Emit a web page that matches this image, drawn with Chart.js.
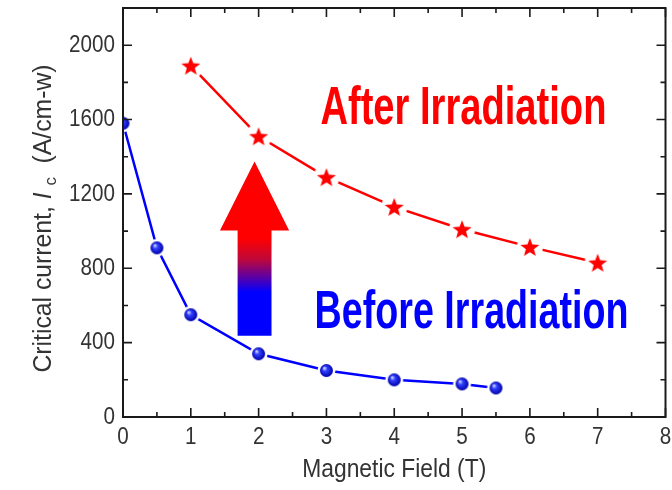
<html>
<head>
    <script src="https://cdn.jsdelivr.net/npm/chart.js"></script>
    <title>Critical current vs magnetic field</title>
    <style>
        body { margin: 0; background: #fff; }
    </style>
</head>
<body>
    <canvas id="c1" width="672" height="490"></canvas>
    <script>
        "use strict";

        // data
        let fieldBefore = [0, 0.5, 1, 2, 3, 4, 5, 5.5];
        let currentBefore = [1580, 910, 550, 340, 250, 200, 178, 156];
        let fieldAfter = [1, 2, 3, 4, 5, 6, 7];
        let currentAfter = [1890, 1510, 1290, 1130, 1010, 915, 830];
        let xLabels = [0, 1, 2, 3, 4, 5, 6, 7, 8];
        let yLabels = [0, 400, 800, 1200, 1600, 2000];

        const sans = "'Liberation Sans', Arial, sans-serif";
        const grey = "#333333";
        const squeeze = 0.86;   // the original uses a condensed face

        // marker images
        function makeStar(R) {
            let c = document.createElement("canvas");
            let s = Math.ceil(R * 2 + 8);
            c.width = s; c.height = s;
            let g = c.getContext("2d");
            let m = s / 2;
            g.fillStyle = "#fff";
            g.beginPath(); g.arc(m, m, R + 3, 0, Math.PI * 2); g.fill();
            g.fillStyle = "#ff0000";
            g.beginPath();
            for (let i = 0; i < 10; i++) {
                let r = i % 2 == 0 ? R : R * 0.42;
                let a = -Math.PI / 2 + i * Math.PI / 5;
                g.lineTo(m + r * Math.cos(a), m + 1 + r * Math.sin(a));
            }
            g.closePath();
            g.fill();
            return c;
        }

        function makeBall(r) {
            let c = document.createElement("canvas");
            let s = Math.ceil(r * 2 + 8);
            c.width = s; c.height = s;
            let g = c.getContext("2d");
            let m = s / 2;
            g.fillStyle = "#fff";
            g.beginPath(); g.arc(m, m, r + 2.5, 0, Math.PI * 2); g.fill();
            let grd = g.createRadialGradient(m - r * 0.35, m - r * 0.4, r * 0.05, m, m, r);
            grd.addColorStop(0, "#d8e0ff");
            grd.addColorStop(0.35, "#3040ff");
            grd.addColorStop(1, "#0000a8");
            g.fillStyle = grd;
            g.beginPath(); g.arc(m, m, r, 0, Math.PI * 2); g.fill();
            return c;
        }

        // text squeezed horizontally; align: "center" or "right"
        function drawText(ctx, str, font, px, py, sx, color, align) {
            ctx.save();
            ctx.font = font;
            ctx.fillStyle = color;
            ctx.textAlign = align || "center";
            ctx.textBaseline = "middle";
            ctx.translate(px, py);
            ctx.scale(sx, 1);
            ctx.fillText(str, 0, 0);
            ctx.restore();
        }

        function fitText(ctx, str, font, cx, cy, w, color) {
            ctx.save();
            ctx.font = font;
            let mw = ctx.measureText(str).width;
            ctx.restore();
            drawText(ctx, str, font, cx, cy, w / mw, color, "center");
        }

        // box with inward ticks on all four sides, plus tick labels
        const frame = {
            id: "frame",
            afterDatasetsDraw(chart) {
                let ctx = chart.ctx;
                let a = chart.chartArea;
                let x = chart.scales.x;
                let y = chart.scales.y;
                ctx.save();
                ctx.strokeStyle = "#1a1a1a";
                ctx.lineWidth = 2;
                ctx.strokeRect(a.left, a.top, a.right - a.left, a.bottom - a.top);
                ctx.lineWidth = 1.6;
                ctx.beginPath();
                x.ticks.forEach(t => {
                    let px = x.getPixelForValue(t.value);
                    let len = Number.isInteger(t.value) ? 9 : 5;
                    ctx.moveTo(px, a.bottom); ctx.lineTo(px, a.bottom - len);
                    ctx.moveTo(px, a.top); ctx.lineTo(px, a.top + len);
                });
                y.ticks.forEach(t => {
                    let py = y.getPixelForValue(t.value);
                    let len = t.value % 400 == 0 ? 9 : 5;
                    ctx.moveTo(a.left, py); ctx.lineTo(a.left + len, py);
                    ctx.moveTo(a.right, py); ctx.lineTo(a.right - len, py);
                });
                ctx.stroke();
                ctx.restore();

                let tf = "24px " + sans;
                x.ticks.forEach(t => {
                    if (xLabels.includes(t.value))
                        drawText(ctx, String(t.value), tf, x.getPixelForValue(t.value), a.bottom + 20, squeeze, grey, "center");
                });
                y.ticks.forEach(t => {
                    if (yLabels.includes(t.value))
                        drawText(ctx, String(t.value), tf, a.left - 8, y.getPixelForValue(t.value), squeeze, grey, "right");
                });
                fitText(ctx, "Magnetic Field (T)", "25px " + sans, (a.left + a.right) / 2, a.bottom + 53, 184, grey);
            }
        };

        // arrow + labels + y title
        const notes = {
            id: "notes",
            afterDraw(chart) {
                let ctx = chart.ctx;
                let x = chart.scales.x;
                let y = chart.scales.y;

                let cx = x.getPixelForValue(1.94);
                let tip = y.getPixelForValue(1375);
                let base = y.getPixelForValue(1003);
                let bottom = y.getPixelForValue(437);
                let hw = x.getPixelForValue(0.51) - x.getPixelForValue(0);
                let sw = x.getPixelForValue(0.25) - x.getPixelForValue(0);
                let grd = ctx.createLinearGradient(0, tip, 0, bottom);
                grd.addColorStop(0, "#ff0000");
                grd.addColorStop(0.44, "#ff0000");
                grd.addColorStop(0.56, "#c00838");
                grd.addColorStop(0.66, "#6000a0");
                grd.addColorStop(0.75, "#0000ff");
                grd.addColorStop(1, "#0000ff");
                ctx.save();
                ctx.fillStyle = grd;
                ctx.beginPath();
                ctx.moveTo(cx, tip);
                ctx.lineTo(cx + hw, base);
                ctx.lineTo(cx + sw, base);
                ctx.lineTo(cx + sw, bottom);
                ctx.lineTo(cx - sw, bottom);
                ctx.lineTo(cx - sw, base);
                ctx.lineTo(cx - hw, base);
                ctx.closePath();
                ctx.fill();
                ctx.restore();

                fitText(ctx, "After Irradiation", "bold 54px " + sans,
                    x.getPixelForValue(5.02), y.getPixelForValue(1655), 286, "#ff0000");
                fitText(ctx, "Before Irradiation", "bold 54px " + sans,
                    x.getPixelForValue(5.14), y.getPixelForValue(561), 314, "#0000ff");

                // y title with italic I and subscript c
                ctx.save();
                ctx.translate(44, (chart.chartArea.top + chart.chartArea.bottom) / 2 + 6);
                ctx.rotate(-Math.PI / 2);
                ctx.fillStyle = grey;
                ctx.textBaseline = "middle";
                let f1 = "25px " + sans;
                let f2 = "italic 25px " + sans;
                let f3 = "17px " + sans;
                let parts = [
                    ["Critical current, ", f1, 0],
                    ["I", f2, 0],
                    [" ", f1, 0],
                    ["c", f3, 7],
                    ["  (A/cm-w)", f1, 0]
                ];
                let total = 0;
                parts.forEach(p => { ctx.font = p[1]; p.push(ctx.measureText(p[0]).width); total += p[3]; });
                ctx.scale(308 / total, 1);
                let px = -total / 2;
                parts.forEach(p => {
                    ctx.font = p[1];
                    ctx.fillText(p[0], px, p[2]);
                    px += p[3];
                });
                ctx.restore();
            }
        };

        let params = {
            type: "scatter",
            data: {
                datasets: [
                    {
                        label: "Before Irradiation",
                        data: fieldBefore.map((v, i) => ({ x: v, y: currentBefore[i] })),
                        showLine: true,
                        borderColor: "#0000ff",
                        borderWidth: 2.5,
                        pointStyle: makeBall(6.5)
                    },
                    {
                        label: "After Irradiation",
                        data: fieldAfter.map((v, i) => ({ x: v, y: currentAfter[i] })),
                        showLine: true,
                        borderColor: "#ff0000",
                        borderWidth: 2.5,
                        pointStyle: makeStar(10)
                    }
                ]
            },
            options: {
                responsive: false,
                animation: false,
                layout: { padding: { top: 8, right: 4, left: 0, bottom: 0 } },
                plugins: { legend: { display: false }, tooltip: { enabled: false } },
                scales: {
                    x: {
                        type: "linear",
                        min: 0, max: 8,
                        grid: { display: false, drawTicks: false },
                        border: { display: false },
                        ticks: { stepSize: 0.5, autoSkip: false, display: false },
                        afterFit: s => { s.height = 73; s.paddingLeft = 0; s.paddingRight = 0; }
                    },
                    y: {
                        min: 0, max: 2200,
                        grid: { display: false, drawTicks: false },
                        border: { display: false },
                        ticks: { stepSize: 200, autoSkip: false, display: false },
                        afterFit: s => { s.width = 123; s.paddingTop = 0; s.paddingBottom = 0; }
                    }
                }
            },
            plugins: [frame, notes]
        };

        let chart1 = new Chart(document.querySelector("#c1"), params);
    </script>
</body>
</html>
